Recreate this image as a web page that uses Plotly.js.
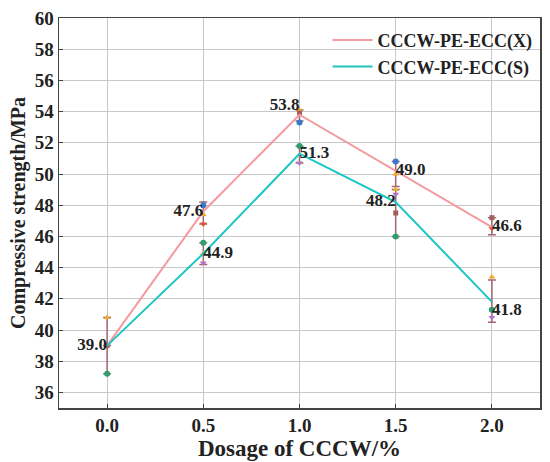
<!DOCTYPE html>
<html><head><meta charset="utf-8">
<script src="https://cdn.plot.ly/plotly-3.0.1.min.js"></script>
<style>body{margin:0;background:#fff}#chart{width:550px;height:462px}</style>
</head><body><div id="chart"></div>
<script>
const dosage = [0.0, 0.5, 1.0, 1.5, 2.0];
const strengthX = [39.0, 47.6, 53.8, 50.2, 46.6];
const strengthS = [39.0, 44.9, 51.3, 48.2, 41.8];
const labelsX = ['39.0', '47.6', '53.8', '49.0', '46.6'];
const labelsS = ['', '44.9', '51.3', '48.2', '41.8'];
const errXplus = [1.8, 0.6, 0.3, 0.6, 0.6];
const errXminus = [1.8, 0.8, 0.4, 1.0, 0.5];
const errSplus = [0, 0.7, 0.5, 0.8, 1.4];
const errSminus = [0, 0.7, 0.6, 2.2, 1.3];
// individual specimen markers
const blueX = [0.5, 1.0, 1.5], blueY = [48.0, 53.3, 50.8];
const orangeX = [0.0, 0.5, 1.0, 1.5, 2.0, 0.5, 1.5], orangeY = [40.8, 47.4, 54.1, 50.0, 43.4, 44.9, 49.0];
const greenX = [0.0, 0.5, 1.0, 1.5, 2.0], greenY = [37.2, 45.6, 51.8, 46.0, 41.3];
const purpleX = [0.5, 1.0, 1.5, 2.0], purpleY = [44.3, 50.7, 48.7, 40.8];
const redX = [0.5, 2.0], redY = [46.8, 46.5];
const brownX = [1.0, 1.5, 2.0, 0.0], brownY = [53.9, 47.5, 47.2, 39.0];

const serif = 'Liberation Serif, DejaVu Serif, serif';
const errColor = '#a0686e';

const traces = [
  {x: dosage, y: strengthX, mode: 'markers', type: 'scatter', showlegend: false, hoverinfo: 'skip',
   marker: {size: 1, color: errColor},
   error_y: {type: 'data', symmetric: false, array: errXplus, arrayminus: errXminus, color: errColor, thickness: 1.5, width: 4}},
  {x: dosage, y: strengthS, mode: 'markers', type: 'scatter', showlegend: false, hoverinfo: 'skip',
   marker: {size: 1, color: errColor},
   error_y: {type: 'data', symmetric: false, array: errSplus, arrayminus: errSminus, color: errColor, thickness: 1.5, width: 4}},
  {x: blueX, y: blueY, mode: 'markers', type: 'scatter', showlegend: false, marker: {size: 6, color: '#3a78c9', symbol: 'circle'}},
  {x: orangeX, y: orangeY, mode: 'markers', type: 'scatter', showlegend: false, marker: {size: 6, color: '#f0a830', symbol: 'triangle-up'}},
  {x: greenX, y: greenY, mode: 'markers', type: 'scatter', showlegend: false, marker: {size: 6, color: '#2e9e6e', symbol: 'circle'}},
  {x: purpleX, y: purpleY, mode: 'markers', type: 'scatter', showlegend: false, marker: {size: 6, color: '#b572c8', symbol: 'triangle-down'}},
  {x: redX, y: redY, mode: 'markers', type: 'scatter', showlegend: false, marker: {size: 6, color: '#e8502c', symbol: 'triangle-down'}},
  {x: brownX, y: brownY, mode: 'markers', type: 'scatter', showlegend: false, marker: {size: 5, color: '#a0605a', symbol: 'square'}},
  {x: dosage, y: strengthX, name: 'CCCW-PE-ECC(X)', mode: 'lines+text', type: 'scatter',
   line: {color: '#f59a9e', width: 2}, text: labelsX,
   textposition: ['middle left', 'middle left', 'top left', 'middle right', 'middle right'],
   textfont: {family: serif, size: 17, color: '#222', weight: 'bold'}},
  {x: dosage, y: strengthS, name: 'CCCW-PE-ECC(S)', mode: 'lines+text', type: 'scatter',
   line: {color: '#1cc4c4', width: 2}, text: labelsS,
   textposition: ['middle right', 'middle right', 'middle right', 'middle left', 'bottom right'],
   textfont: {family: serif, size: 17, color: '#222', weight: 'bold'}}
];

const layout = {
  width: 550, height: 462,
  margin: {l: 59, r: 10, t: 18, b: 54},
  paper_bgcolor: '#fff', plot_bgcolor: '#fff',
  font: {family: serif, color: '#222'},
  showlegend: true,
  legend: {x: 0.995, y: 0.99, xanchor: 'right', yanchor: 'top', bgcolor: 'rgba(255,255,255,0)',
           font: {family: serif, size: 18, color: '#222', weight: 'bold'}, itemwidth: 40, tracegroupgap: 2},
  xaxis: {range: [-0.25, 2.25], tickvals: dosage, ticktext: ['0.0', '0.5', '1.0', '1.5', '2.0'],
          showgrid: true, gridcolor: '#c8c8c8', gridwidth: 1, zeroline: false,
          showline: true, linecolor: '#444', linewidth: 1.5, mirror: true,
          ticks: 'inside', ticklen: 4, tickcolor: '#444', tickwidth: 1,
          tickfont: {family: serif, size: 19, color: '#222', weight: 'bold'},
          title: {text: 'Dosage of CCCW/%', font: {family: serif, size: 23, color: '#222', weight: 'bold'}, standoff: 2}},
  yaxis: {range: [35, 60], tickvals: [36, 38, 40, 42, 44, 46, 48, 50, 52, 54, 56, 58, 60],
          showgrid: true, gridcolor: '#c8c8c8', gridwidth: 1, zeroline: false,
          showline: true, linecolor: '#444', linewidth: 1.5, mirror: true,
          ticks: 'inside', ticklen: 4, tickcolor: '#444', tickwidth: 1,
          tickfont: {family: serif, size: 19, color: '#222', weight: 'bold'},
          title: {text: 'Compressive strength/MPa', font: {family: serif, size: 20, color: '#222', weight: 'bold'}, standoff: 3}}
};

Plotly.newPlot('chart', traces, layout, {displayModeBar: false, staticPlot: true});
</script></body></html>
